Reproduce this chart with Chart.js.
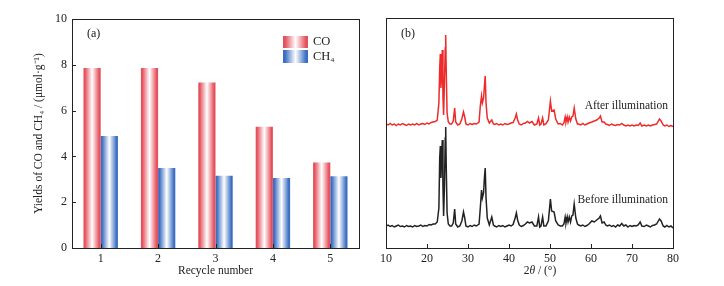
<!DOCTYPE html>
<html>
<head>
<meta charset="utf-8">
<script src="https://cdn.jsdelivr.net/npm/chart.js@4"></script>
<style>
  body { margin: 0; background: #fff; }
  .panel { position: absolute; top: 0; width: 362px; height: 286px; }
</style>
</head>
<body>
<div class="panel" style="left:0"><canvas id="barChart" width="362" height="286"></canvas></div>
<div class="panel" style="left:362px"><canvas id="xrdChart" width="362" height="286"></canvas></div>
<script>
// ---------- DATA ----------
const cycles = ['1', '2', '3', '4', '5'];
const coYield = [7.86, 7.86, 7.23, 5.30, 3.73];
const ch4Yield = [4.89, 3.49, 3.16, 3.06, 3.13];

// XRD (arbitrary intensity units)
const angles = [10, 10.5, 11, 11.5, 12, 12.5, 13, 13.5, 14, 14.5, 15, 15.5, 16, 16.5, 17, 17.5, 18, 18.5, 19, 19.5, 20, 20.5, 21, 21.5, 22, 22.5,
  22.9, 23.1, 23.25, 23.4, 23.55, 23.73, 23.9, 24.05, 24.25, 24.45, 24.56, 24.7, 24.9, 25.2, 25.6, 26.0, 26.4, 26.75, 27.0, 27.5, 28.0, 28.5, 28.9, 29.2, 29.5,
  30, 30.5, 31, 31.5, 32, 32.7, 33.0, 33.3, 33.5, 33.8, 34.0, 34.2, 34.4, 34.7, 35.2, 35.8, 36.2,
  36.5, 37, 37.5, 38, 38.5, 39, 39.5, 40, 40.5, 41, 41.5, 41.8, 42.1, 42.5, 43, 43.5, 44, 44.5, 45, 45.6, 46.2, 46.8, 47.2, 47.5, 47.8, 48.2, 48.5, 49.0, 49.6,
  50.1, 50.4, 51.0, 51.4, 52, 52.5, 53, 53.4, 53.7, 53.9, 54.2, 54.4, 54.7, 55.0, 55.3, 55.6, 55.9, 56.3, 56.7,
  57, 57.5, 58, 58.5, 59, 59.5, 60.2, 60.8, 61.4, 62.0, 62.3, 62.7, 63.2, 63.6,
  64, 64.5, 65, 65.5, 66, 66.5, 67, 67.5, 68, 68.5, 69, 69.5, 70, 70.5, 71, 71.5, 72, 72.4, 73, 73.5, 74, 74.5, 75, 75.5, 76, 76.7, 77.1, 77.6, 78, 78.5, 79, 79.5, 80];
const beforeIllum = [22, 23, 21.5, 22.5, 21, 22, 23, 21.5, 22, 21, 22.5, 21.5, 22, 21, 22.5, 21.5, 22, 23, 21.5, 22.5, 22, 23.5, 23, 24, 24, 26,
  40, 90, 102, 70, 90, 108, 60, 32, 60, 110, 121, 80, 35, 24, 22, 22, 25, 39, 24, 21, 22, 27, 36, 30, 22,
  21, 22.5, 21.5, 23, 22, 24, 40, 58, 50, 55, 70, 80, 50, 30, 23, 31, 23,
  22, 21, 22.5, 21.5, 22.5, 21, 22, 23, 22, 23.5, 30, 35, 28, 23, 21.5, 22.5, 24, 26, 25, 26, 22, 22, 31, 21, 22, 31, 22, 22, 27,
  49, 37, 36, 27, 23, 22, 22, 24, 31, 25, 31, 26, 31, 26, 32, 33, 44, 30, 24,
  23, 22, 23, 21.5, 22.5, 24, 27, 26, 28, 30, 32, 25, 26, 23,
  22, 23, 21.5, 22.5, 21, 23, 22, 24.5, 22, 23, 21, 22.5, 21.5, 22.5, 22, 23, 26, 22, 21.5, 23, 22, 21, 22.5, 23, 24, 29, 27, 22, 21, 22.5, 21, 22, 20];
const afterIllum = [124, 123, 124.5, 123, 124, 122.5, 124, 123, 124.5, 123.5, 122.5, 124, 123, 124, 123, 124.5, 123, 124, 124.5, 123.5, 125, 124, 125.5, 126, 126.5, 128,
  145, 180, 194, 160, 175, 198, 150, 133, 165, 200, 213, 175, 135, 126, 124, 124, 127, 140, 126, 123, 124, 129, 136, 131, 124,
  123, 124.5, 123.5, 124.5, 124, 126, 142, 152, 145, 150, 162, 172, 145, 130, 125, 128, 124,
  123.5, 124.5, 123, 124, 123, 124.5, 123.5, 124, 125, 125.5, 130, 134, 128, 124, 123, 124.5, 125, 126.5, 125, 126.5, 123, 124, 130, 123, 124, 130, 123, 124, 128,
  147, 137, 138, 129, 124, 124.5, 123, 125, 131, 126, 131, 126, 131, 127, 131, 132, 140, 129, 124,
  124, 123, 124.5, 123, 124, 125, 126, 127, 128, 130, 132, 126, 126, 124,
  123.5, 122.5, 124, 123, 122.5, 123.5, 123, 124.5, 123, 122, 123, 122, 123, 122, 123, 122.5, 125, 122, 123, 122, 123, 122, 123, 123.5, 124, 129, 127, 123, 122, 123, 121.5, 122.5, 121.5];

// ---------- STYLE ----------
const SERIF = '"Liberation Serif", "Times New Roman", serif';
const INK = '#222';
const RED = '#e4505b';
const BLUE = '#3b6ec2';

function stripes(ctx, left, right, edge) {
  const g = ctx.createLinearGradient(left, 0, right, 0);
  g.addColorStop(0, edge);
  g.addColorStop(0.08, edge);
  g.addColorStop(0.5, '#ffffff');
  g.addColorStop(0.92, edge);
  g.addColorStop(1, edge);
  return g;
}

function barFill(edge) {
  return c => {
    const el = c.element;
    if (!el || el.x === undefined || !el.width) return edge;
    return stripes(c.chart.ctx, el.x - el.width / 2, el.x + el.width / 2, edge);
  };
}

// frame + inward ticks
const frame = {
  id: 'frame',
  afterDraw(chart) {
    const { ctx, chartArea: a, scales } = chart;
    ctx.save();
    ctx.strokeStyle = INK;
    ctx.lineWidth = 1;
    ctx.strokeRect(Math.round(a.left) + 0.5, Math.round(a.top) + 0.5, Math.round(a.right - a.left), Math.round(a.bottom - a.top));
    ctx.beginPath();
    scales.x.ticks.forEach((t, i) => {
      const px = Math.round(scales.x.getPixelForTick(i)) + 0.5;
      ctx.moveTo(px, a.bottom);
      ctx.lineTo(px, a.bottom - 4);
    });
    if (scales.y.options.display) {
      scales.y.ticks.forEach((t, i) => {
        const py = Math.round(scales.y.getPixelForTick(i)) + 0.5;
        ctx.moveTo(a.left, py);
        ctx.lineTo(a.left + 4, py);
      });
    }
    ctx.stroke();
    ctx.restore();
  }
};

// ---------- (a) BAR CHART ----------
const ctxBar = document.getElementById('barChart');

const barChart = new Chart(ctxBar, {
  type: 'bar',
  data: {
    labels: cycles,
    datasets: [
      { label: 'CO', data: coYield, backgroundColor: barFill(RED), borderWidth: 0 },
      { label: 'CH₄', data: ch4Yield, backgroundColor: barFill(BLUE), borderWidth: 0 }
    ]
  },
  options: {
    responsive: false,
    animation: false,
    categoryPercentage: 0.6,
    barPercentage: 1.0,
    layout: { padding: { top: 19, right: 3, left: 0, bottom: 0 } },
    plugins: { legend: { display: false }, tooltip: { enabled: false } },
    scales: {
      x: {
        grid: { display: false, drawTicks: false },
        border: { display: false },
        ticks: { color: INK, font: { family: SERIF, size: 12 }, padding: 4 },
        title: { display: true, text: 'Recycle number', color: INK, font: { family: SERIF, size: 11.5 }, padding: { top: 0, bottom: 8 } },
        afterFit: s => { s.height = 38; }
      },
      y: {
        min: 0,
        max: 10,
        grid: { display: false, drawTicks: false },
        border: { display: false },
        ticks: { stepSize: 2, color: INK, font: { family: SERIF, size: 12 }, padding: 5 },
        title: { display: true, text: 'Yields of CO and CH₄ / (μmol·g⁻¹)', color: INK, font: { family: SERIF, size: 11.5 }, padding: { top: 32, bottom: 0 } },
        afterFit: s => { s.width = 72; }
      }
    }
  },
  plugins: [frame, {
    id: 'barNotes',
    afterDraw(chart) {
      const { ctx, chartArea: a } = chart;
      ctx.save();
      ctx.fillStyle = INK;
      ctx.font = '12px ' + SERIF;
      ctx.textBaseline = 'middle';
      ctx.fillText('(a)', a.left + 15, 34);
      // legend
      const sx = 283, sw = 25;
      ctx.fillStyle = stripes(ctx, sx, sx + sw, RED);
      ctx.fillRect(sx, 36, sw, 12);
      ctx.fillStyle = stripes(ctx, sx, sx + sw, BLUE);
      ctx.fillRect(sx, 50, sw, 13);
      ctx.fillStyle = INK;
      ctx.font = '12.5px ' + SERIF;
      ctx.fillText('CO', 313, 42);
      ctx.fillText('CH₄', 313, 57);
      ctx.restore();
    }
  }]
});
barChart.update();

// ---------- (b) XRD CHART ----------
const ctxXrd = document.getElementById('xrdChart');

new Chart(ctxXrd, {
  type: 'line',
  data: {
    datasets: [
      {
        label: 'Before illumination',
        data: angles.map((a, i) => ({ x: a, y: beforeIllum[i] })),
        borderColor: '#222',
        borderWidth: 1.5,
        pointRadius: 0,
        tension: 0
      },
      {
        label: 'After illumination',
        data: angles.map((a, i) => ({ x: a, y: afterIllum[i] })),
        borderColor: '#ee2a2a',
        borderWidth: 1.5,
        pointRadius: 0,
        tension: 0
      }
    ]
  },
  options: {
    responsive: false,
    animation: false,
    layout: { padding: { top: 18, right: 51, left: 24, bottom: 0 } },
    plugins: { legend: { display: false }, tooltip: { enabled: false } },
    scales: {
      x: {
        type: 'linear',
        min: 10,
        max: 80,
        grid: { display: false, drawTicks: false },
        border: { display: false },
        ticks: { stepSize: 10, color: INK, font: { family: SERIF, size: 12 }, padding: 4 },
        afterFit: s => { s.height = 38; }
      },
      y: { display: false, min: 0, max: 230 }
    }
  },
  plugins: [frame, {
    id: 'xrdNotes',
    afterDraw(chart) {
      const { ctx, chartArea: a } = chart;
      ctx.save();
      ctx.fillStyle = INK;
      ctx.font = '12px ' + SERIF;
      ctx.textBaseline = 'middle';
      ctx.fillText('(b)', a.left + 15, 34);
      ctx.font = '11.5px ' + SERIF;
      ctx.textAlign = 'right';
      ctx.fillText('After illumination', a.right - 5, 106);
      ctx.fillText('Before illumination', a.right - 5, 200);
      // axis title 2θ / (°)
      ctx.textAlign = 'left';
      const parts = [['2', ''], ['θ', 'italic '], [' / (°)', '']];
      let w = 0;
      parts.forEach(p => { ctx.font = p[1] + '11.5px ' + SERIF; w += ctx.measureText(p[0]).width; });
      let x = 178 - w / 2;
      parts.forEach(p => {
        ctx.font = p[1] + '11.5px ' + SERIF;
        ctx.fillText(p[0], x, 271);
        x += ctx.measureText(p[0]).width;
      });
      ctx.restore();
    }
  }]
});
</script>
</body>
</html>
